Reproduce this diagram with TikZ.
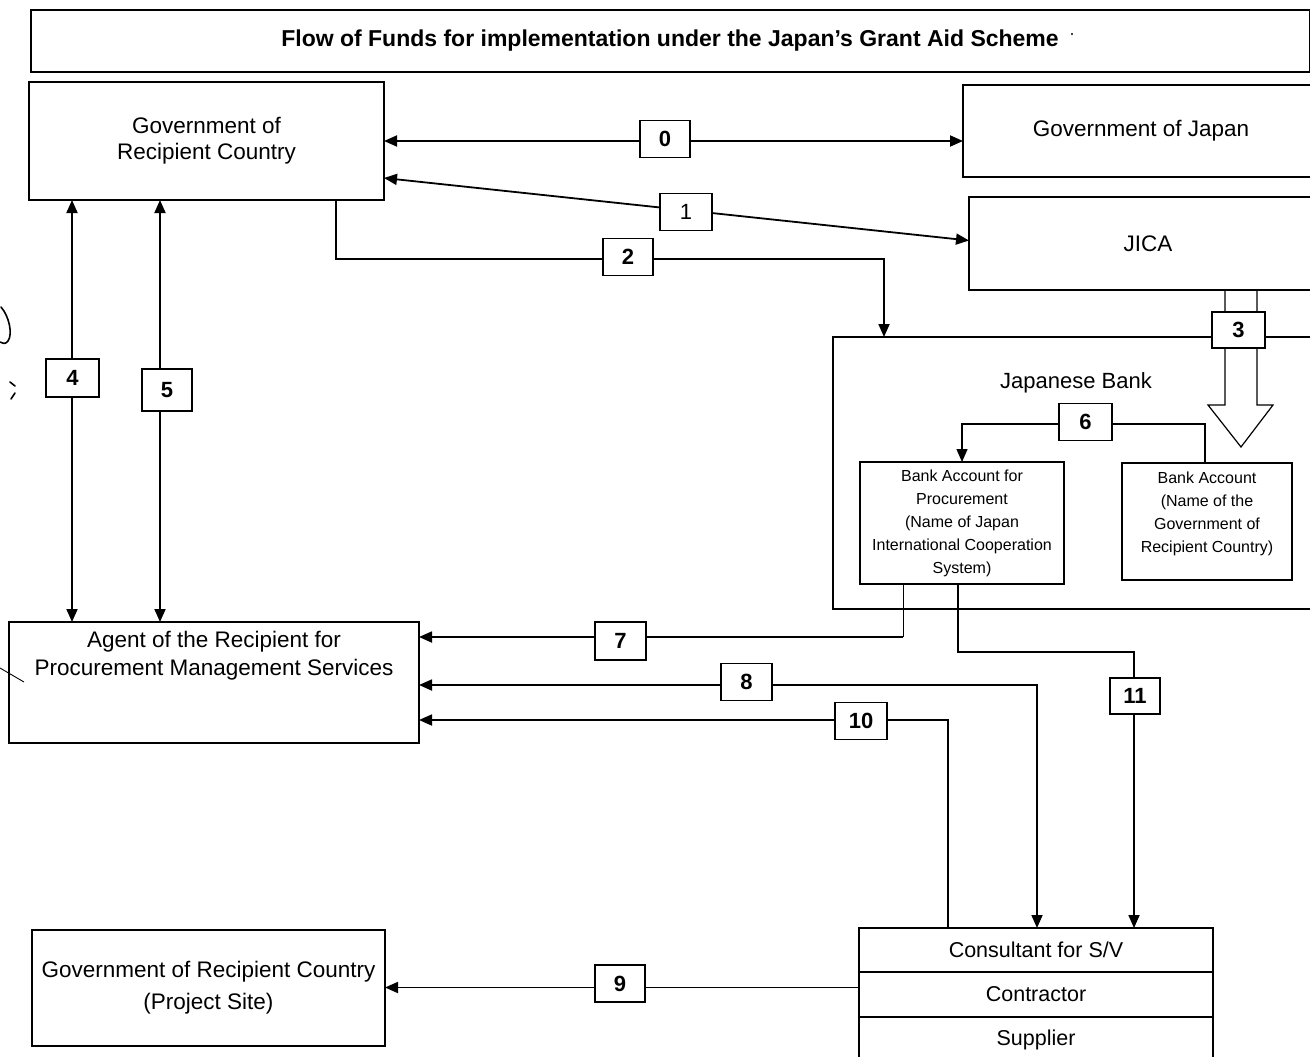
\documentclass[tikz,border=0pt]{standalone}
\usepackage{fontspec}
\setmainfont{Liberation Sans}
\usetikzlibrary{arrows.meta,calc,backgrounds}
\begin{document}
\begin{tikzpicture}[x=1pt,y=-1pt,
  every node/.style={inner sep=0pt, outer sep=0pt},
  box/.style={draw, line width=2pt, align=center, font=\fontsize{22.5}{26}\selectfont},
  lbl/.style={align=center, font=\fontsize{22.5}{28}\selectfont},
  small/.style={align=center, font=\fontsize{16}{23}\selectfont},
  num/.style={draw, fill=white, line width=1.8pt, font=\bfseries\fontsize{22}{26}\selectfont},
  link/.style={line width=1.8pt},
  thinlink/.style={line width=1pt},
  tip/.style={-{Triangle[length=13pt,width=11pt]}},
  tips/.style={{Triangle[length=13pt,width=11pt]}-{Triangle[length=13pt,width=11pt]}},
  scrib/.style={line width=1.6pt, line cap=round}
]
\useasboundingbox (0,0) rectangle (1310,1057);
\clip (0,0) rectangle (1310,1057);

% main boxes
\node[box, minimum width=1279pt, minimum height=62pt, font=\bfseries\fontsize{23}{26}\selectfont] (title) at (670,41) {Flow of Funds for implementation under the Japan's Grant Aid Scheme};
\node[box, minimum width=355pt, minimum height=118pt] (govR) at (206.5,141) {Government of\\Recipient Country};
\node[box, minimum width=356pt, minimum height=92pt] (govJ) at (1141,131) {Government of Japan};
\node[box, minimum width=358pt, minimum height=93pt] (jica) at (1148,243.5) {JICA};
\node[box, minimum width=497pt, minimum height=272pt] (bank) at (1081.5,473) {};
\node[lbl, font=\fontsize{22}{26}\selectfont] (bankt) at (1076,383) {Japanese Bank};
\node[box, line width=1.8pt, small, minimum width=204pt, minimum height=122pt] (accP) at (962,523) {Bank Account for\\Procurement\\(Name of Japan\\International Cooperation\\System)};
\node[box, line width=1.8pt, minimum width=170pt, minimum height=117pt] (accG) at (1207,521.5) {};
\node[small] (accGt) at (1207,514) {Bank Account\\(Name of the\\Government of\\Recipient Country)};
\node[box, minimum width=410pt, minimum height=121pt] (agent) at (214,682.5) {};
\node[lbl] (agentt) at (214,656) {Agent of the Recipient for\\Procurement Management Services};
\node[box, minimum width=353pt, minimum height=116pt, font=\fontsize{22.5}{32}\selectfont] (proj) at (208.5,988) {Government of Recipient Country\\(Project Site)};
\node[box, minimum width=354pt, minimum height=44pt, font=\fontsize{21.5}{26}\selectfont] (cons1) at (1036,950) {Consultant for S/V};
\node[box, minimum width=354pt, minimum height=45pt, font=\fontsize{21.5}{26}\selectfont] (cons2) at (1036,994.5) {Contractor};
\node[box, minimum width=354pt, minimum height=45pt, font=\fontsize{21.5}{26}\selectfont] (cons3) at (1036,1039.5) {Supplier};

% number boxes
\node[num, minimum width=50pt, minimum height=37pt] (n0) at (665,139) {0};
\node[num, minimum width=52pt, minimum height=37pt, font=\mdseries\fontsize{22}{26}\selectfont] (n1) at (686,212) {1};
\node[num, minimum width=50pt, minimum height=37pt] (n2) at (628,257) {2};
\node[num, minimum width=53pt, minimum height=36pt] (n3) at (1238.5,330) {3};
\node[num, minimum width=53pt, minimum height=38pt] (n4) at (72.5,378) {4};
\node[num, minimum width=50pt, minimum height=42pt] (n5) at (167,390) {5};
\node[num, minimum width=53pt, minimum height=37pt] (n6) at (1085.5,422) {6};
\node[num, minimum width=51pt, minimum height=38pt] (n7) at (620.5,641) {7};
\node[num, minimum width=51pt, minimum height=37pt] (n8) at (746.5,682) {8};
\node[num, minimum width=52pt, minimum height=37pt] (n10) at (861,721) {10};
\node[num, minimum width=50pt, minimum height=36pt] (n11) at (1135,696) {11};
\node[num, minimum width=50pt, minimum height=37pt] (n9) at (620,983.5) {9};

\coordinate (k8) at (1037,685);
\coordinate (k10) at (948,720);
\coordinate (k11) at (1134,652);
\coordinate (k9) at ($(cons2.west)+(0,-7)$);

\begin{scope}[on background layer]
  % 0
  \draw[link,tips] (govR.east) -- (govR.east -| govJ.west);
  % 1
  \draw[link,tips] ($(govR.south east)+(0,-22)$) -- ($(jica.west)+(0,-3)$);
  % 2
  \draw[link,tip] ($(govR.south west)+(307,0)$) |- ($(bank.north west)+(51,-78)$) -- ($(bank.north west)+(51,0)$);
  % 3
  \draw[line width=1.2pt, line join=miter] ($(jica.south west)+(256,0)$) |- (1208,405) -- (1241,447) -- (1273,405) -| ($(jica.south west)+(288,0)$);
  % 4, 5
  \draw[link,tips] ($(govR.south west)+(43,0)$) -- ($(agent.north west)+(63,0)$);
  \draw[link,tips] ($(govR.south west)+(131,0)$) -- ($(agent.north west)+(151,0)$);
  % 6
  \draw[line width=1.4pt,tip] (n6.west |- 0,424) -| (accP.north);
  \draw[line width=1.4pt] (n6.east |- 0,424) -| ($(accG.north)+(-2,0)$);
  % 7
  \draw[thinlink] ($(accP.south west)+(43,0)$) -- ++(0,53) coordinate (k7);
  \draw[link,tip] (k7) -- (k7 -| agent.east);
  % 8
  \draw[link,tips] (k8 -| agent.east) -- (k8) -- (k8 |- cons1.north);
  % 10
  \draw[link,tip] (k10 |- cons1.north) -- (k10) -- (k10 -| agent.east);
  % 11
  \draw[link,tip] ($(accP.south west)+(98,0)$) |- (k11) -- (k11 |- cons1.north);
  % 9
  \draw[link,tip] (k9) -- (k9 -| proj.east);
\end{scope}

% scan marks
\draw[scrib] (1,307) .. controls (9,316) and (13,334) .. (8,341) .. controls (5,344) .. (0,342);
\draw[scrib] (10,382) -- (15,386);
\draw[scrib] (15,393) -- (11,399);
\draw[line width=0.9pt] (0,668) -- (24,682);
\fill (1072,34) circle (1.2);
\end{tikzpicture}
\end{document}
